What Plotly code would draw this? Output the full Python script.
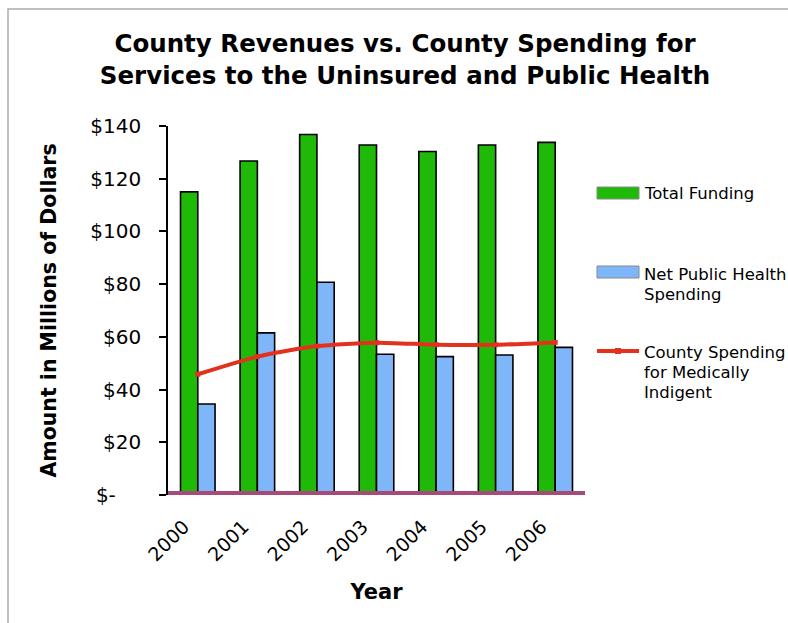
import plotly.graph_objects as go

years = ["2000", "2001", "2002", "2003", "2004", "2005", "2006"]
total_funding = [115.0, 126.7, 136.8, 132.8, 130.3, 132.8, 133.8]
net_public_health = [34.5, 61.5, 80.7, 53.4, 52.5, 53.1, 56.0]
medically_indigent = [45.8, 52.5, 56.5, 57.8, 57.0, 57.0, 57.9]
legend_labels = ["Total Funding", "Net Public Health<br>Spending",
                 "County Spending<br>for Medically<br>Indigent"]
y_tickvals = [0, 20, 40, 60, 80, 100, 120, 140]
y_ticktext = ["$-\u00a0\u00a0\u00a0\u00a0", "$20", "$40", "$60", "$80", "$100", "$120", "$140"]

GREEN = "#1FBA08"
BLUE = "#7FB6FA"
RED = "#E2321E"
PURPLE = "#A84A77"

W, H = 788, 623
L, R, T, B = 168, 585, 126, 495


def px(x):
    return (x - L) / (R - L)


def py(y):
    return (B - y) / (B - T)


fig = go.Figure()
fig.add_trace(go.Bar(x=years, y=total_funding, name="Total Funding",
                     marker=dict(color=GREEN, line=dict(color="black", width=1.6)),
                     showlegend=False))
fig.add_trace(go.Bar(x=years, y=net_public_health, name="Net Public Health Spending",
                     marker=dict(color=BLUE, line=dict(color="black", width=1.6)),
                     showlegend=False))
fig.add_trace(go.Scatter(x=years, y=medically_indigent, name="County Spending for Medically Indigent",
                         mode="lines+markers", line=dict(color=RED, width=4, shape="spline", smoothing=0.6),
                         marker=dict(symbol="square", size=5, color=RED),
                         showlegend=False))

shapes = []
# baseline (thick purple)
shapes.append(dict(type="line", xref="paper", yref="y", x0=0, x1=1, y0=0, y1=0,
                   line=dict(color=PURPLE, width=8), layer="above"))
# outer frame
shapes.append(dict(type="rect", xref="paper", yref="paper",
                   x0=px(8), x1=px(820), y0=py(9), y1=py(660),
                   line=dict(color="#AAAAAA", width=1.5), fillcolor="rgba(0,0,0,0)"))
# legend swatches
shapes.append(dict(type="rect", xref="paper", yref="paper", x0=px(597), x1=px(639),
                   y0=py(187), y1=py(199), fillcolor=GREEN, line=dict(color="#888888", width=1)))
shapes.append(dict(type="rect", xref="paper", yref="paper", x0=px(597), x1=px(639),
                   y0=py(266), y1=py(278), fillcolor=BLUE, line=dict(color="#888888", width=1)))
shapes.append(dict(type="line", xref="paper", yref="paper", x0=px(597), x1=px(639),
                   y0=py(351), y1=py(351), line=dict(color=RED, width=4)))
shapes.append(dict(type="rect", xref="paper", yref="paper", x0=px(615), x1=px(621),
                   y0=py(348), y1=py(354), fillcolor=RED, line=dict(color=RED, width=0)))

annotations = []
for label, first_y in zip(legend_labels, [193, 274, 352]):
    for i, line in enumerate(label.split("<br>")):
        annotations.append(dict(text=line, xref="paper", yref="paper", x=px(642), y=py(first_y + 20 * i),
                                xanchor="left", yanchor="middle", align="left", showarrow=False,
                                font=dict(family="DejaVu Sans", size=16.5, color="black")))

fig.update_layout(
    width=W, height=H,
    margin=dict(l=L, r=W - R, t=T, b=H - B, pad=0),
    paper_bgcolor="white", plot_bgcolor="white",
    barmode="group", bargap=0.42, bargroupgap=0,
    title=dict(text="County Revenues vs. County Spending for<br>Services to the Uninsured and Public Health",
               x=405 / W, xref="container", xanchor="center",
               y=1 - 52 / H, yref="container", yanchor="middle",
               font=dict(family="DejaVu Sans", size=24.5, color="black", weight="bold")),
    xaxis=dict(range=[-0.5, 6.5], tickangle=-45, tickfont=dict(family="DejaVu Sans", size=19, color="black"),
               showline=False, ticks="", showgrid=False, zeroline=False,
               ticklabelstandoff=16, ticklabelshift=-14,
               title=dict(text="<b>Year</b>", font=dict(family="DejaVu Sans", size=21, color="black"), standoff=20)),
    yaxis=dict(range=[0, 140], tickvals=y_tickvals, ticktext=y_ticktext,
               tickfont=dict(family="DejaVu Sans", size=20, color="black"),
               showline=True, linecolor="black", linewidth=1.5,
               ticks="outside", ticklen=7, tickwidth=1.5, tickcolor="black",
               ticklabelstandoff=14, showgrid=False, zeroline=False,
               title=dict(text="<b>Amount in Millions of Dollars</b>",
                          font=dict(family="DejaVu Sans", size=20.5, color="black"), standoff=28)),
    shapes=shapes, annotations=annotations,
)

fig.write_html("out.html")
